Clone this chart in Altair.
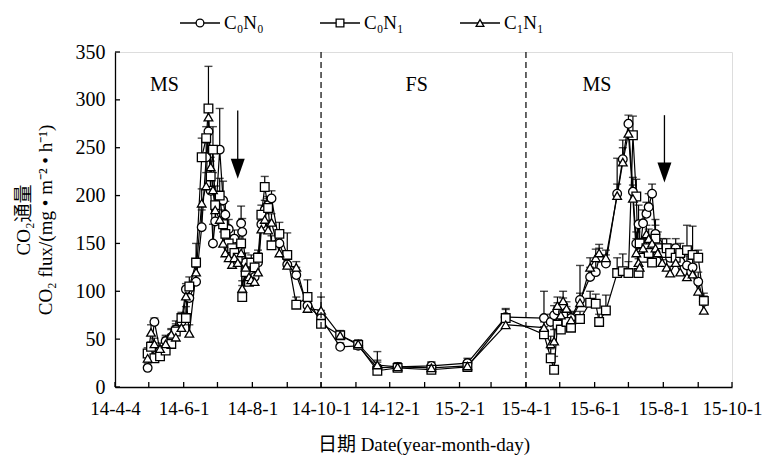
import altair as alt
import pandas as pd

# ---------------- data ----------------
dates = [
    # 2014 season
    "2014-04-30", "2014-05-03", "2014-05-06", "2014-05-11", "2014-05-16", "2014-05-21",
    "2014-05-25", "2014-05-30", "2014-06-03", "2014-06-06", "2014-06-12", "2014-06-17",
    "2014-06-21", "2014-06-23", "2014-06-25", "2014-06-27", "2014-06-29", "2014-07-03",
    "2014-07-06", "2014-07-08", "2014-07-11", "2014-07-14", "2014-07-16", "2014-07-19",
    "2014-07-22", "2014-07-23", "2014-07-26", "2014-07-29", "2014-07-31", "2014-08-03",
    "2014-08-06", "2014-08-09", "2014-08-12", "2014-08-15", "2014-08-18", "2014-08-25",
    "2014-09-01", "2014-09-09", "2014-09-19", "2014-10-01",
    # freezing season
    "2014-10-18", "2014-11-03", "2014-11-20", "2014-12-08", "2015-01-07", "2015-02-08",
    "2015-03-14",
    # 2015 season
    "2015-04-17", "2015-04-23", "2015-04-26", "2015-04-29", "2015-05-02", "2015-05-04",
    "2015-05-07", "2015-05-11", "2015-05-19", "2015-05-28", "2015-06-02", "2015-06-05",
    "2015-06-11", "2015-06-21", "2015-06-26", "2015-07-01", "2015-07-05", "2015-07-08",
    "2015-07-10", "2015-07-11", "2015-07-14", "2015-07-17", "2015-07-19", "2015-07-22",
    "2015-07-25", "2015-07-27", "2015-07-31", "2015-08-04", "2015-08-07", "2015-08-12",
    "2015-08-16", "2015-08-22", "2015-08-27", "2015-09-01", "2015-09-06",
]

c0n0 = [
    20, 40, 68, 38, 48, 52, 60, 68, 102, 93, 110, 167,
    240, 267, 205, 150, 173, 248, 195, 180, 165, 150, 155, 145,
    171, 162, 130, 125, 120, 115, 130, 170, 185, 190, 197, 150,
    128, 117, 85, 72,
    42, 43, 20, 21, 22, 25, 73,
    72, 68, 75, 80, 70, 85, 78, 72, 91, 115, 120, 135,
    129, 202, 238, 275, 204, 150, 170, 140, 171, 181, 188, 202,
    160, 150, 145, 140, 135, 145, 131, 127, 125, 110, 89,
]
c0n1 = [
    35, 42, 30, 32, 38, 45, 58, 72, 72, 105, 130, 240,
    260, 291, 220, 248, 190, 200, 170, 160, 150, 145, 140, 135,
    150, 94, 120, 110, 130, 125, 135, 180, 209, 187, 148, 160,
    138, 86, 94, 66,
    54, 44, 17, 20, 18, 21, 72,
    55, 30, 18, 65, 60, 75, 68, 62, 71, 88, 87, 68,
    80, 119, 121, 119, 263, 199, 119, 150, 135, 145, 140, 130,
    155, 145, 140, 145, 140, 135, 140, 143, 138, 135, 90,
]
c1n1 = [
    30, 57, 45, 40, 45, 55, 52, 62, 95, 56, 120, 192,
    210, 282, 230, 206, 185, 175, 150, 140, 135, 128, 135, 130,
    140, 103, 125, 115, 112, 110, 120, 165, 175, 164, 172, 140,
    127, 125, 82, 80,
    54, 45, 23, 21, 20, 22, 65,
    62, 45, 48, 85, 75, 90, 82, 70, 88, 125, 135, 140,
    135, 200, 235, 265, 197, 140, 130, 125, 145, 160, 155, 150,
    145, 140, 130, 125, 119, 130, 120, 115, 118, 100, 80,
]

sd_c0n0 = [
    5, 6, 4, 5, 6, 8, 9, 8, 6, 12, 15, 18,
    15, 20, 14, 20, 18, 43, 20, 14, 10, 8, 9, 7,
    18, 14, 10, 8, 7, 8, 10, 12, 10, 9, 8, 8,
    8, 8, 6, 8,
    4, 4, 6, 4, 4, 5, 8,
    28, 8, 10, 8, 7, 8, 6, 7, 36, 10, 12, 10,
    9, 37, 20, 9, 15, 12, 20, 15, 14, 12, 14, 10,
    15, 12, 10, 9, 8, 10, 8, 10, 12, 10, 6,
]
sd_c0n1 = [
    6, 5, 5, 4, 5, 10, 8, 6, 12, 10, 20, 20,
    12, 44, 16, 24, 20, 18, 15, 10, 8, 9, 8, 8,
    12, 12, 9, 10, 8, 6, 8, 10, 11, 10, 10, 12,
    23, 8, 18, 6,
    5, 5, 20, 5, 5, 6, 10,
    8, 10, 14, 10, 8, 9, 8, 6, 8, 12, 10, 8,
    16, 16, 18, 12, 20, 18, 15, 18, 12, 10, 12, 12,
    14, 10, 9, 10, 9, 8, 10, 26, 30, 8, 8,
]
sd_c1n1 = [
    8, 8, 6, 6, 7, 6, 12, 10, 10, 9, 14, 15,
    14, 12, 10, 18, 16, 15, 12, 9, 8, 10, 7, 6,
    8, 8, 8, 6, 6, 7, 7, 9, 8, 10, 9, 8,
    8, 6, 6, 14,
    4, 4, 5, 4, 6, 4, 8,
    6, 8, 12, 9, 8, 10, 7, 8, 10, 10, 9, 9,
    8, 12, 15, 10, 14, 15, 12, 14, 10, 9, 10, 8,
    12, 8, 8, 8, 7, 8, 7, 9, 10, 12, 10,
]

series_names = ["C\u2080N\u2080", "C\u2080N\u2081", "C\u2081N\u2081"]
series_shapes = ["circle", "square", "triangle-up"]

x_labels = ["14-4-4", "14-6-1", "14-8-1", "14-10-1", "14-12-1",
            "15-2-1", "15-4-1", "15-6-1", "15-8-1", "15-10-1"]
y_ticks = [0, 50, 100, 150, 200, 250, 300, 350]

divider_dates = ["2014-10-01", "2015-04-01"]
period_dates = ["2014-05-15", "2014-12-25", "2015-06-03"]
period_texts = ["MS", "FS", "MS"]
period_y = [316, 316, 316]

arrow_dates = ["2014-07-19", "2015-08-02"]
arrow_top = [289, 284]
arrow_head_top = [238, 233]
arrow_head_mid = [228, 224]

# ---------------- tables ----------------
rows = []
for name, vals, sds in zip(series_names, [c0n0, c0n1, c1n1], [sd_c0n0, sd_c0n1, sd_c1n1]):
    for d, v, s in zip(dates, vals, sds):
        rows.append({"date": d, "series": name, "value": v, "upper": v + s})
df = pd.DataFrame(rows)
df["date"] = pd.to_datetime(df["date"])

tick_df = pd.DataFrame({"t": pd.date_range("2014-04-01", "2015-10-01", freq="MS")})
ytick_df = pd.DataFrame({"v": y_ticks})
div_df = pd.DataFrame({"d": pd.to_datetime(divider_dates)})
per_df = pd.DataFrame({"d": pd.to_datetime(period_dates), "t": period_texts, "y": period_y})
arr_df = pd.DataFrame({"d": pd.to_datetime(arrow_dates), "top": arrow_top,
                       "htop": arrow_head_top, "hmid": arrow_head_mid})

# ---------------- layout ----------------
W, H = 617, 335
FONT = "Liberation Serif, Noto Sans CJK SC"

label_values = [alt.DateTime(year=2014 + (3 + 2 * i) // 12, month=(3 + 2 * i) % 12 + 1, date=1)
                for i in range(len(x_labels))]
label_expr = ("[" + ",".join("'%s'" % l for l in x_labels) +
              "][floor(((year(datum.value)-2014)*12+month(datum.value)-3)/2)]")

xscale = alt.Scale(domain=[alt.DateTime(year=2014, month=4, date=1),
                           alt.DateTime(year=2015, month=10, date=1)])
yscale = alt.Scale(domain=[0, 350], nice=False)

xaxis = alt.Axis(values=label_values, labelExpr=label_expr, ticks=False, tickSize=0,
                 grid=False, domainColor="black", domainWidth=1.3,
                 labelFont=FONT, labelFontSize=19, labelColor="black", labelPadding=12,
                 labelFlush=False, labelOverlap=False,
                 title="日期 Date(year-month-day)", titleFont=FONT, titleFontSize=19,
                 titleFontWeight="normal", titleColor="black", titlePadding=17)
yaxis = alt.Axis(values=y_ticks, ticks=False, tickSize=0, grid=False,
                 domainColor="black", domainWidth=1.3,
                 labelFont=FONT, labelFontSize=20, labelColor="black", labelPadding=10,
                 title=["CO\u2082通量", "CO\u2082 flux/(mg \u2022 m\u207b\u00b2 \u2022 h\u207b\u00b9)"],
                 titleFont=FONT, titleFontSize=19, titleFontWeight="normal",
                 titleColor="black", titleLineHeight=22, titlePadding=20)

X = alt.X("date:T", scale=xscale, axis=xaxis)
Y = alt.Y("value:Q", scale=yscale, axis=yaxis)

base = alt.Chart(df)
err = base.mark_rule(color="black", strokeWidth=1.2).encode(
    x=X, y=Y, y2="upper:Q", detail="series:N")
caps = base.mark_tick(orient="horizontal", size=8, thickness=1.4, color="black").encode(
    x="date:T", y="upper:Q")
lines = base.mark_line(color="black", strokeWidth=1.2).encode(
    x="date:T", y="value:Q", detail="series:N")
points = base.mark_point(filled=True, fill="white", stroke="black", strokeWidth=1.3,
                         size=75, opacity=1).encode(
    x="date:T", y="value:Q",
    shape=alt.Shape("series:N", scale=alt.Scale(domain=series_names, range=series_shapes),
                    legend=None))

xticks = alt.Chart(tick_df).mark_rule(color="black", strokeWidth=1.3).encode(
    x="t:T", y=alt.value(H - 5), y2=alt.value(H))
yticks = alt.Chart(ytick_df).mark_rule(color="black", strokeWidth=1.3).encode(
    y="v:Q", x=alt.value(0), x2=alt.value(5))

dividers = alt.Chart(div_df).mark_rule(color="black", strokeWidth=1.2, strokeDash=[6, 4]).encode(
    x="d:T", y=alt.value(0), y2=alt.value(H))
periods = alt.Chart(per_df).mark_text(font=FONT, fontSize=20, color="black").encode(
    x="d:T", y="y:Q", text="t:N")

arrow_line = alt.Chart(arr_df).mark_rule(color="black", strokeWidth=1.3).encode(
    x="d:T", y="top:Q", y2="htop:Q")
arrow_head = alt.Chart(arr_df).mark_point(
    shape="M-0.7,-1L0.7,-1L0,1Z", filled=True, color="black", opacity=1, size=400).encode(
    x="d:T", y="hmid:Q")

# manual legend above the plot
one = pd.DataFrame({"k": [0]})
legend_layers = []
for i, (name, shp) in enumerate(zip(series_names, series_shapes)):
    x0 = 65 + 140 * i
    legend_layers.append(alt.Chart(one).mark_rule(color="black", strokeWidth=1.3).encode(
        x=alt.value(x0), x2=alt.value(x0 + 40), y=alt.value(-29)))
    legend_layers.append(alt.Chart(one).mark_point(
        shape=shp, filled=True, fill="white", stroke="black", strokeWidth=1.3,
        size=60, opacity=1).encode(x=alt.value(x0 + 20), y=alt.value(-29)))
    legend_layers.append(alt.Chart(one).mark_text(
        font=FONT, fontSize=19, color="black", align="left", baseline="middle").encode(
        x=alt.value(x0 + 44), y=alt.value(-29), text=alt.value(name)))

chart = alt.layer(
    err, caps, lines, points, xticks, yticks, dividers, periods, arrow_line, arrow_head,
    *legend_layers
).properties(
    width=W, height=H,
    autosize=alt.AutoSizeParams(type="none"),
    padding={"left": 115, "top": 52, "right": 32, "bottom": 72},
).configure_view(stroke=None).configure(background="white")

chart.save("out.html", embed_options={"renderer": "svg", "actions": False})
